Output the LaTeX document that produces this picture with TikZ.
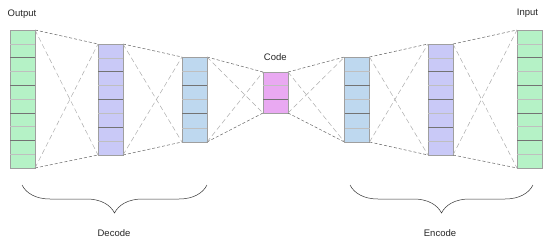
\documentclass[tikz,border=0pt]{standalone}
\usepackage{fontspec}
\setmainfont{Liberation Sans}
\usetikzlibrary{calc,decorations.pathreplacing}

\definecolor{outgreen}{HTML}{B5F2C6}
\definecolor{midpurple}{HTML}{C9C9F7}
\definecolor{lowblue}{HTML}{BED8EF}
\definecolor{codepink}{HTML}{E9A9F2}

\tikzset{
    layer/.style={draw=gray!75, line width=0.6pt, minimum width=25pt,
        inner sep=0pt, outer sep=0pt},
    edge/.style={densely dashed, black!60, line width=0.5pt},
    cross/.style={dash pattern=on 5pt off 3pt, gray!65, line width=0.5pt},
    bracket/.style={decorate, decoration={brace, mirror, amplitude=28pt},
        gray!40!black, line width=0.5pt},
    lbl/.style={font=\fontsize{9.5}{11}\selectfont, text=black!85, anchor=base},
}

\begin{document}
\begin{tikzpicture}[x=1pt, y=-1pt]
    \useasboundingbox (0,0) rectangle (550,244);

    % layers
    \node[layer, fill=outgreen, minimum height=138pt] (output) at (22.5,99) {};
    \node[layer, fill=midpurple, minimum height=111pt] (decA) at (110.5,99.5) {};
    \node[layer, fill=lowblue, minimum height=85pt] (decB) at (194.5,99.5) {};
    \node[layer, fill=codepink, minimum height=41pt] (code) at (275.5,92.5) {};
    \node[layer, fill=lowblue, minimum height=85pt] (encB) at (357,99.5) {};
    \node[layer, fill=midpurple, minimum height=111pt] (encA) at (440.5,99.5) {};
    \node[layer, fill=outgreen, minimum height=138pt] (input) at (529.5,99) {};

    % cells
    \foreach \n/\k in {output/10, decA/8, decB/6, code/3, encB/6, encA/8, input/10} {
        \pgfmathtruncatemacro{\m}{\k-1}
        \foreach \i in {1,...,\m} {
            \pgfmathtruncatemacro{\c}{25+30*mod(\i+1,2)}
            \draw[black!\c, line width=0.6pt]
                ($(\n.north west)!\i/\k!(\n.south west)$) --
                ($(\n.north east)!\i/\k!(\n.south east)$);
        }
    }

    % connections
    \foreach \a/\b in {output/decA, decA/decB, decB/code, code/encB, encB/encA, encA/input} {
        \draw[edge] (\a.north east) -- (\b.north west);
        \draw[edge] (\a.south east) -- (\b.south west);
        \draw[cross] (\a.north east) -- (\b.south west);
        \draw[cross] (\a.south east) -- (\b.north west);
    }

    % braces
    \draw[bracket] (22,185) -- (207,185);
    \draw[bracket] (350,185) -- (533,185);

    % labels
    \node[lbl] (outlbl) at (22,16.3) {Output};
    \node[lbl] (inlbl) at (527.5,15.7) {Input};
    \node[lbl] (codelbl) at (275.3,60.7) {Code};
    \node[lbl] (declbl) at (114,236.7) {Decode};
    \node[lbl] (enclbl) at (440,236.7) {Encode};
\end{tikzpicture}
\end{document}
